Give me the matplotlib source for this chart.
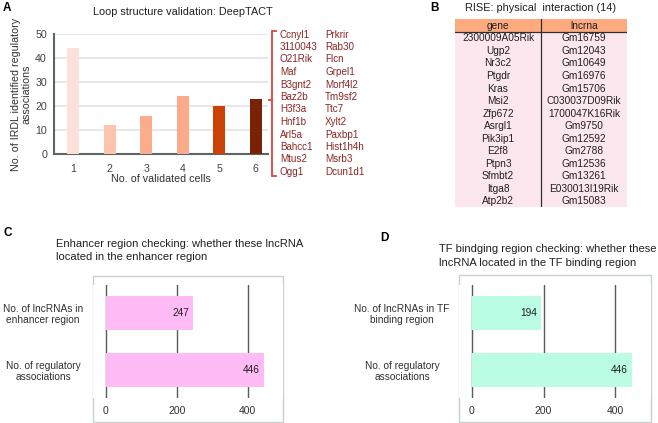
import matplotlib

matplotlib.use("Agg")
import matplotlib.pyplot as plt
from matplotlib.patches import Rectangle

plt.rcParams["font.family"] = ["Liberation Sans", "DejaVu Sans"]

W, H = 658, 423

# --- données -----------------------------------------------------------------
# A : validation par DeepTACT
cells = [1, 2, 3, 4, 5, 6]
n_assoc = [44, 12, 16, 24, 20, 23]
bar_colors = ["#fde1d8", "#fcc4ac", "#fcab8c", "#fcab8a", "#cc4205", "#782404"]
genes_a = ["Ccnyl1", "3110043", "O21Rik", "Maf", "B3gnt2", "Baz2b",
           "H3f3a", "Hnf1b", "Arl5a", "Bahcc1", "Mtus2", "Ogg1"]
partners_a = ["Prkrir", "Rab30", "Flcn", "Grpel1", "Morf4l2", "Tm9sf2",
              "Ttc7", "Xylt2", "Paxbp1", "Hist1h4h", "Msrb3", "Dcun1d1"]

# B : RISE
rise_gene = ["2300009A05Rik", "Ugp2", "Nr3c2", "Ptgdr", "Kras", "Msi2", "Zfp672",
             "Asrgl1", "Pik3ip1", "E2f8", "Ptpn3", "Sfmbt2", "Itga8", "Atp2b2"]
rise_lnc = ["Gm16759", "Gm12043", "Gm10649", "Gm16976", "Gm15706", "C030037D09Rik",
            "1700047K16Rik", "Gm9750", "Gm12592", "Gm2788", "Gm12536", "Gm13261",
            "E030013I19Rik", "Gm15083"]

# C / D
enh_labels = ["No. of regulatory\nassociations", "No. of lncRNAs in\nenhancer region"]
enh_values = [446, 247]
tf_labels = ["No. of regulatory\nassociations", "No. of lncRNAs in TF\nbinding region"]
tf_values = [446, 194]


def box(x0, y0, x1, y1):
    """Rectangle en pixels (origine en haut à gauche) -> coordonnées figure."""
    return [x0 / W, 1 - y1 / H, (x1 - x0) / W, (y1 - y0) / H]


fig = plt.figure(figsize=(W / 100, H / 100), dpi=100)

# calque de décor en pixels
deco = fig.add_axes([0, 0, 1, 1])
deco.set_xlim(0, W)
deco.set_ylim(H, 0)
deco.set_axis_off()

# --- A -------------------------------------------------------------------------
axa = fig.add_axes(box(54, 34, 268, 154))
axa.bar(cells, n_assoc, width=0.33, color=bar_colors, zorder=3)
axa.set_xlim(0.48, 6.33)
axa.set_ylim(0, 50)
axa.set_yticks([0, 10, 20, 30, 40, 50])
axa.set_xticks(cells)
axa.grid(axis="y", color="#e2e4e4", lw=1.2, zorder=0)
for s in ("top", "right"):
    axa.spines[s].set_visible(False)
for s in ("left", "bottom"):
    axa.spines[s].set_color("#5b6567")
    axa.spines[s].set_linewidth(1.5)
axa.tick_params(length=0, labelsize=7.7, colors="#404040", pad=5)
axa.tick_params(axis="x", pad=7)
axa.set_xlabel("No. of validated cells", fontsize=7.7, color="#303030", labelpad=0)
axa.set_ylabel("No. of IRDL identified regulatory\nassociations", fontsize=7.7,
               color="#303030", labelpad=3, linespacing=1.05)
deco.text(183, 12, "Loop structure validation: DeepTACT", fontsize=7.8,
          color="#202020", ha="center", va="center")
deco.text(3, 8, "A", fontsize=8.5, fontweight="bold", va="center")

# accolade + liste de gènes
red = "#d9453a"
bx = 272
deco.plot([bx + 4, bx, bx, bx + 4], [31, 31, 176, 176], color=red, lw=1.3,
          solid_joinstyle="miter")
y6 = axa.transData.transform((6, n_assoc[5]))
y6 = H - y6[1]
deco.plot([263, bx], [y6 + 1, y6 + 1], color=red, lw=1.3)
for i, (g, p) in enumerate(zip(genes_a, partners_a)):
    y = 34.5 + i * 12.5
    deco.text(280, y, g, fontsize=7.1, color="#8b2525", va="center")
    deco.text(325, y, p, fontsize=7.1, color="#8b2525", va="center")

# --- B -------------------------------------------------------------------------
deco.text(430, 8, "B", fontsize=8.5, fontweight="bold", va="center")
deco.text(541, 8, "RISE: physical  interaction (14)", fontsize=7.9, color="#202020",
          ha="center", va="center")
axb = fig.add_axes(box(455, 19, 627, 207))
nrow = len(rise_gene) + 1
axb.set_xlim(0, 2)
axb.set_ylim(nrow, 0)
axb.set_axis_off()
axb.add_patch(Rectangle((0, 0), 2, 1, color="#fcaa7e", lw=0))
axb.add_patch(Rectangle((0, 1), 2, nrow - 1, color="#fde7ee", lw=0))
axb.plot([0, 2], [1, 1], color="#303030", lw=0.9)
axb.plot([1, 1], [0, nrow], color="#303030", lw=0.9)
axb.text(0.5, 0.55, "gene", fontsize=7.3, ha="center", va="center", color="#202020")
axb.text(1.5, 0.55, "lncrna", fontsize=7.3, ha="center", va="center", color="#202020")
for i, (g, l) in enumerate(zip(rise_gene, rise_lnc)):
    axb.text(0.5, i + 1.55, g, fontsize=7.3, ha="center", va="center", color="#202020")
    axb.text(1.5, i + 1.55, l, fontsize=7.3, ha="center", va="center", color="#202020")


# --- C / D ---------------------------------------------------------------------
def hpanel(frame, ax_px, values, labels, color, pad):
    deco.add_patch(Rectangle((frame[0], frame[1]), frame[2] - frame[0],
                             frame[3] - frame[1], fill=False, ec="#c9d0d0", lw=1))
    ax = fig.add_axes(box(*ax_px))
    ax.barh([0, 1], values, height=0.6, color=color, zorder=3)
    for y, v in zip([0, 1], values):
        ax.text(v - 12, y, str(v), fontsize=7.3, ha="right", va="center",
                color="#202020", zorder=4)
    ax.set_xlim(-36, 500)
    ax.set_ylim(-0.5, 1.5)
    ax.set_xticks([0, 200, 400])
    ax.set_yticks([0, 1])
    ax.set_yticklabels(labels, ha="center", linespacing=1.1)
    ax.grid(axis="x", color="#555c5e", lw=1, zorder=0)
    for s in ax.spines.values():
        s.set_visible(False)
    ax.tick_params(length=0, labelsize=7.3, colors="#303030")
    ax.tick_params(axis="x", pad=6, labelsize=7.5)
    ax.tick_params(axis="y", pad=pad)
    return ax


deco.text(3, 233, "C", fontsize=8.5, fontweight="bold", va="center")
deco.text(56, 250.5, "Enhancer region checking: whether these lncRNA\nlocated in the enhancer region",
          fontsize=8.0, color="#202020", va="center", linespacing=1.4)
hpanel((93, 276, 283, 422), (93, 285, 283, 398), enh_values, enh_labels, "#ffbbf6", 36)

deco.text(380, 238, "D", fontsize=8.5, fontweight="bold", va="center")
deco.text(439, 256, "TF bindging region checking: whether these\nlncRNA located in the TF binding region",
          fontsize=8.0, color="#202020", va="center", linespacing=1.4)
hpanel((459, 275, 651, 422), (459, 285, 651, 398), tf_values, tf_labels, "#bbfde2", 41)

fig.savefig("out.png", dpi=100)
